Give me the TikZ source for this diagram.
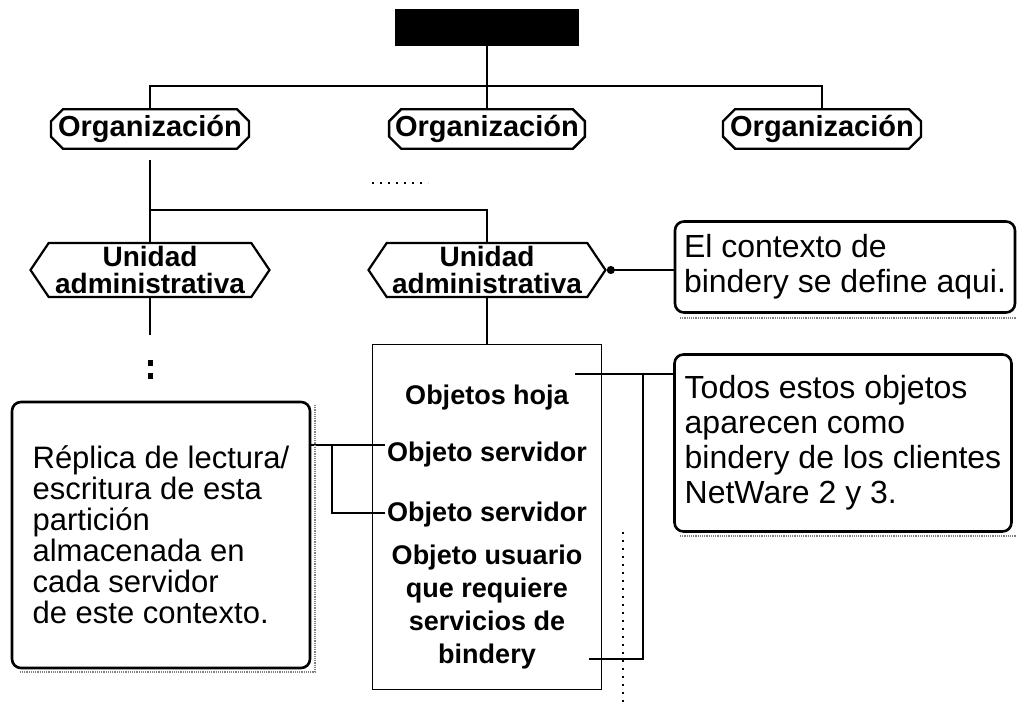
\documentclass[tikz,border=0pt]{standalone}
\usepackage{fontspec}
\setmainfont{Liberation Sans}
\usetikzlibrary{shapes.misc,shapes.symbols,arrows.meta}

\begin{document}
\begin{tikzpicture}[x=1pt,y=-1pt,
  orgbox/.style={shape=chamfered rectangle, chamfered rectangle xsep=6pt, chamfered rectangle ysep=6pt, draw, line width=2.4pt, inner sep=0pt, minimum height=32pt, font=\bfseries\fontsize{29}{30}\selectfont},
  unitbox/.style={shape=signal, signal to=west and east, signal pointer angle=112, draw, line width=2.2pt, inner sep=0pt, minimum height=54pt, align=center, font=\bfseries\fontsize{28}{27}\selectfont},
  note/.style={draw, line width=2.6pt, rounded corners=9pt, align=left, inner sep=0pt, font=\fontsize{32}{35}\selectfont},
  item/.style={align=center, inner sep=0pt, font=\bfseries\fontsize{27}{33}\selectfont},
  wire/.style={line width=2pt},
  shade/.style={gray, line width=1.2pt, densely dotted}]
\useasboundingbox (0,0) rectangle (1018,708);

\node[fill=black, draw, minimum width=183pt, minimum height=36pt, inner sep=0pt] (root) at (487,27) {};
\node[orgbox, minimum width=198pt] (org1) at (150,129) {Organización};
\node[orgbox, minimum width=185pt] (org2) at (487,129) {Organización};
\node[orgbox, minimum width=198pt] (org3) at (822,129) {Organización};
\node[unitbox, minimum width=239pt] (unit1) at (150,270) {Unidad\\administrativa};
\node[unitbox, minimum width=237pt] (unit2) at (487,270) {Unidad\\administrativa};
\node[draw, line width=1.8pt, minimum width=229pt, minimum height=345pt, inner sep=0pt] (objs) at (487,517) {};
\node[item] (hoja) at (487,398) {Objetos hoja};
\node[item] (serv1) at (487,455) {Objeto servidor};
\node[item] (serv2) at (487,515) {Objeto servidor};
\node[item] (usuario) at (487,607) {Objeto usuario\\que requiere\\servicios de\\bindery};
\node[note, minimum width=340pt, minimum height=91pt] (ctx) at (845,267) {El contexto de\\bindery se define aqui.};
\node[note, minimum width=337pt, minimum height=177pt] (todos) at (843,443) {Todos estos objetos\\aparecen como\\bindery de los clientes\\NetWare 2 y 3.};
\node[note, minimum width=298pt, minimum height=266pt, font=\fontsize{31}{31}\selectfont] (replica) at (161,535) {Réplica de lectura/\\escritura de esta\\partición\\almacenada en\\cada servidor\\de este contexto.};

\coordinate (bus) at (487,86);
\coordinate (drop) at (150,160);
\coordinate (fork) at (150,210);
\coordinate (stub) at (150,335);
\coordinate (hojaend) at (575,374);
\coordinate (tap) at (643,374);
\coordinate (bindend) at (589,659);
\coordinate (srv1in) at (385,445);
\coordinate (branch) at (332,445);
\coordinate (srv2in) at (385,513);

\draw[wire] (root) -- (org2);
\draw[wire] (org1.north) |- (bus) -| (org3.north);
\draw[wire] (drop) -- (unit1.north);
\draw[wire] (fork) -| (unit2.north);
\draw[wire] (unit1.south) -- (stub);
\draw[wire] (unit2.south) -- (objs.north);
\draw[wire, {Circle[length=8pt]}-] (unit2.east) -- (unit2.east -| ctx.west);
\draw[wire] (hojaend) -- (hojaend -| todos.west);
\draw[wire] (bindend) -| (tap);
\draw[wire] (replica.east |- srv1in) -- (srv1in);
\draw[wire] (branch) |- (srv2in);

\fill (147.5,360) rectangle (152.5,366);
\fill (147.5,373) rectangle (152.5,379);
\draw[line width=2pt, dash pattern=on 2pt off 6pt] (372,183) -- (428,183);
\draw[line width=2.5pt, dash pattern=on 2pt off 6pt] (623,532) -- (623,708);

\draw[shade] (680,318) -- (1016,318);
\draw[shade] (680,536) -- (1016,536);
\draw[shade] (315,405) -- (315,672) -- (20,672);
\end{tikzpicture}
\end{document}
